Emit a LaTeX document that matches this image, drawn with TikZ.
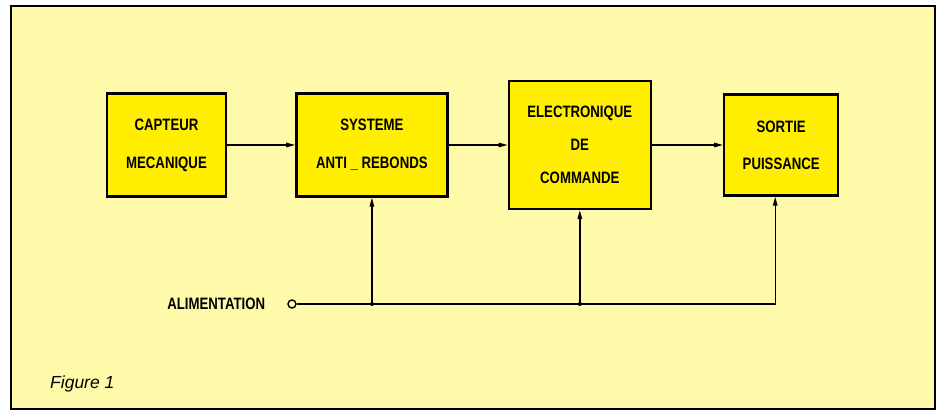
\documentclass[tikz,border=0pt]{standalone}
\usepackage{fontspec}
\newfontfamily\boxfont{Liberation Sans}[FakeStretch=0.8]
\newfontfamily\legfont{Liberation Sans}
\usetikzlibrary{arrows.meta,positioning,calc}
\definecolor{fond}{RGB}{255,250,170}
\definecolor{jaune}{RGB}{255,238,0}
\tikzset{
  bloc/.style={draw,line width=2.4pt,fill=jaune,align=center,inner sep=2pt,
    font=\boxfont\bfseries\fontsize{16.5}{38}\selectfont},
  etiq/.style={inner sep=0pt,font=\boxfont\bfseries\fontsize{16.5}{18}\selectfont},
  borne/.style={draw,circle,line width=1.4pt,fill=fond,minimum size=8pt,inner sep=0pt},
  fleche/.style={-{Triangle[length=9pt,width=4.5pt]},line width=1.4pt},
  point/.style={circle,fill,minimum size=4pt,inner sep=0pt},
  legende/.style={inner sep=0pt,font=\legfont\itshape\fontsize{17.5}{20}\selectfont},
}
\begin{document}
\begin{tikzpicture}[x=1pt,y=-1pt]
  \useasboundingbox (0,0) rectangle (938,411);
  \fill[white] (0,0) rectangle (938,411);
  \draw[line width=2pt,fill=fond] (11,6) rectangle (935,409);

  \node[bloc,minimum width=119pt,minimum height=103pt] (capteur) at (166.5,145)
    {CAPTEUR\\MECANIQUE};
  \node[bloc,right=68pt of capteur,minimum width=151pt,minimum height=103pt] (systeme)
    {SYSTEME\\ANTI \_ REBONDS};
  \node[bloc,right=59pt of systeme,minimum width=142pt,minimum height=128pt,
    font=\boxfont\bfseries\fontsize{16.5}{33}\selectfont] (electronique)
    {ELECTRONIQUE\\DE\\COMMANDE};
  \node[bloc,right=71pt of electronique,minimum width=114pt,minimum height=101pt,
    font=\boxfont\bfseries\fontsize{16.5}{37}\selectfont] (sortie)
    {SORTIE\\PUISSANCE};

  \draw[fleche] (capteur) -- (systeme);
  \draw[fleche] (systeme) -- (electronique);
  \draw[fleche] (electronique) -- (sortie);

  % alimentation
  \node[borne] (borne) at (292,304) {};
  \node[etiq,left=22pt of borne] (alim) {ALIMENTATION};
  \coordinate (s4) at ($(sortie.south)+(-6,0)$);
  \coordinate (j1) at (systeme.south |- borne);
  \coordinate (j2) at (electronique.south |- borne);
  \coordinate (j3) at (s4 |- borne);
  \draw[fleche] (borne) -- (j3) -- (s4);
  \draw[fleche] (j1) -- (systeme.south);
  \draw[fleche] (j2) -- (electronique.south);
  \node[point] (p1) at (j1) {};
  \node[point] (p2) at (j2) {};

  \node[legende,anchor=west] (fig) at (50,384) {Figure 1};
\end{tikzpicture}
\end{document}
